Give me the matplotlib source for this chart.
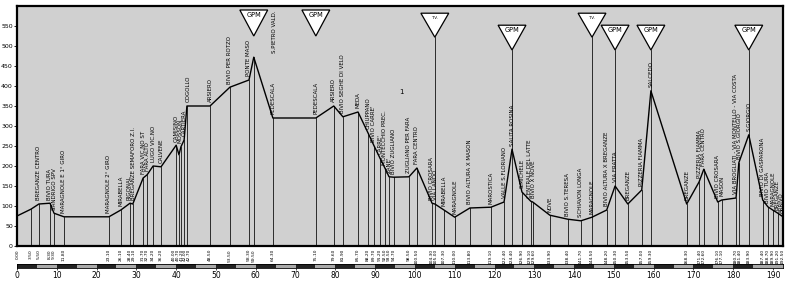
import matplotlib
matplotlib.use("Agg")
import matplotlib.pyplot as plt
from matplotlib.patches import Polygon, Rectangle
from matplotlib.transforms import blended_transform_factory

plt.rcParams['font.family'] = ['Liberation Sans Narrow', 'DejaVu Sans']

# ---------------- data ----------------
km = [0.00, 3.50, 5.50, 8.30, 9.30, 11.80, 23.10, 26.10, 28.40, 29.10, 31.70, 32.70,
      34.20, 36.20, 40.00, 40.70, 41.20, 42.00, 42.70, 48.50, 53.50, 58.30, 59.50,
      64.30, 75.10, 79.60, 81.90, 85.70, 88.20, 89.70, 91.20, 92.50, 93.50, 94.70,
      98.50, 100.50, 104.30, 105.00, 107.30, 110.00, 113.80, 119.10, 122.40, 124.40,
      126.90, 129.10, 129.60, 133.90, 138.40, 141.70, 144.50, 148.20, 150.30, 153.50,
      157.00, 159.30, 168.30, 171.40, 172.60, 176.10, 177.10, 180.70, 181.40, 183.90,
      187.40, 188.70, 189.90, 191.20, 192.50]

elev = [75, 92, 105, 107, 82, 73, 73, 90, 107, 105, 170, 178,
        200, 198, 252, 228, 248, 265, 350, 350, 397, 415, 472,
        320, 320, 350, 323, 335, 283, 251, 220, 194, 173, 172,
        173, 195, 107, 105, 90, 72, 95, 97, 110, 242,
        135, 112, 110, 77, 67, 63, 72, 90, 150, 105,
        140, 388, 105, 160, 192, 110, 115, 120, 208, 278,
        115, 98, 90, 82, 73]

names = ["", "", "BREGANZE CENTRO", "BIVIO TURA", "SANDRIGO SPV", "MARAGNOLE E 1° GIRO",
         "MARAGNOLE 2° GIRO", "MIRABELLA", "RIGONAL", "BREGANZE SEMAFORO Z.I.",
         "FARA VIC.NO ST", "FARA ALTO", "LUGO VIC.NO", "CALVENE", "CAMISINO", "",
         "MOSSON", "CARTIERA", "COGOLLO", "ARSIERO", "BIVIO PER ROTZO", "PONTE MASO", "",
         "PEDESCALA", "PEDESCALA", "ARSIERO", "BIVIO SEGHE DI VELO", "MEDA", "CHIUPPANO",
         "BIVIO CARRE'", "CARRE'", "MONTECCHIO PREC.", "ZANE'", "BIVIO ZUGLIANO",
         "ZUGLIANO PER FARA", "FARA CENTRO", "BIVIO CROSARA", "VIA LANDO", "MIRABELLA",
         "MARAGNOLE", "BIVIO ALTURA X MASON", "MAROSTICA", "VALLE S.FLORIANO",
         "SALITA ROSINA", "S.MICHELE", "CENTRALE DEL LATTE", "BIVIO X NOVE", "NOVE",
         "BIVIO S.TERESA", "SCHIAVON LONGA", "MARAGNOLE", "BIVIO ALTURA X BREGANZE",
         "VIA FRATTA", "BREGANZE", "PIZZERIA FIAMMA", "SALCEDO", "BREGANZE",
         "PIZZERIA FIAMMA", "FARA CENTRO", "BIVIO CROSARA", "MASON",
         "VIA BROGLIATI - VIA MONTELLO - VIA COSTA", "BIVIO S.GIORGIO", "S.GIORGIO",
         "BIVIO DI GASPARONA", "BIVIO TURA", "MARAGNOLE", "BREGANZE", "ARRIVO"]

# GPM / sprint markers: km, text, style, connected to profile by a line
gpm_km = [59.50, 75.10, 105.00, 124.40, 144.50, 150.30, 159.30, 183.90]
gpm_text = ["GPM", "GPM", "T.V.", "GPM", "T.V.", "GPM", "GPM", "GPM"]
gpm_style = ["high", "high", "tv", "low", "tv", "low", "low", "low"]
gpm_link = [False, False, True, True, True, True, True, True]

y_ticks = list(range(0, 551, 50))
scale_ticks = list(range(0, 191, 5))


def spread(xs, sep, lo, hi):
    """Nudge label anchor positions apart so neighbours keep a minimum gap."""
    pos = list(xs)
    for _ in range(200):
        moved = False
        for i in range(len(pos) - 1):
            d = pos[i + 1] - pos[i]
            if d < sep - 1e-6:
                push = (sep - d) / 2
                pos[i] -= push
                pos[i + 1] += push
                moved = True
        pos = [min(max(p, lo), hi) for p in pos]
        if not moved:
            break
    return pos


# ---------------- figure ----------------
W, H = 800, 284
fig = plt.figure(figsize=(W / 100, H / 100), dpi=100)
fig.patch.set_facecolor('white')

ax = fig.add_axes([17 / W, 1 - 246 / H, 766 / W, 240 / H])
ax.set_facecolor('#d0d0d0')
ax.set_xlim(0, 192.5)
ax.set_ylim(0, 600)
for s in ax.spines.values():
    s.set_linewidth(1.6)
    s.set_color('black')
ax.set_xticks([])
ax.set_yticks(y_ticks)
ax.set_yticklabels([str(v) for v in y_ticks], fontsize=4.5)
ax.tick_params(axis='y', direction='out', length=2, width=0.6, pad=1)

# vertical station lines
for k, e in zip(km, elev):
    ax.plot([k, k], [0, e], color='black', lw=0.55, zorder=2)

# profile
ax.plot(km, elev, color='black', lw=1.0, zorder=3)

# station names (anchors nudged apart where stations are very close)
named = [(k, e, n) for k, e, n in zip(km, elev, names) if n]
name_x = spread([k for k, _, _ in named], 1.05, 0.5, 192.0)
for x, (k, e, n) in zip(name_x, named):
    ax.text(x, e + 9, n, rotation=90, ha='center', va='bottom',
            fontsize=4.0, color='black', zorder=4)

# km labels below axis
tr = blended_transform_factory(ax.transData, ax.transAxes)
km_x = spread(km, 0.95, 0.3, 192.3)
for x, k in zip(km_x, km):
    ax.text(x, -0.012, f"{k:.2f}", rotation=90, ha='center', va='top',
            fontsize=3.2, transform=tr, clip_on=False)

# GPM triangles
styles = {"high": (590, 525), "tv": (582, 522), "low": (552, 490)}
hw = 3.5
for gk, gt, gs, gl in zip(gpm_km, gpm_text, gpm_style, gpm_link):
    top, apex = styles[gs]
    tri = Polygon([[gk - hw, top], [gk + hw, top], [gk, apex]], closed=True,
                  facecolor='white', edgecolor='black', lw=0.9, zorder=5)
    ax.add_patch(tri)
    fs = 4.8 if gt == "GPM" else 3.0
    ax.text(gk, top - 12, gt, ha='center', va='center', fontsize=fs, zorder=6)
    if gl:
        idx = km.index(gk)
        ax.plot([gk, gk], [elev[idx], apex], color='black', lw=0.55, zorder=2)

# extra texts
ax.text(64.6, 482, "S.PIETRO VALD.", rotation=90, ha='center', va='bottom',
        fontsize=4.0, zorder=4)
ax.text(96.5, 385, "1", ha='center', va='center', fontsize=5)

# ---------------- scale bar ----------------
ax2 = fig.add_axes([17 / W, 1 - 268 / H, 766 / W, 4 / H])
ax2.set_xlim(0, 192.5)
ax2.set_ylim(0, 1)
for i, t in enumerate(scale_ticks[:-1]):
    ax2.add_patch(Rectangle((t, 0), 5, 1, facecolor='#222222' if i % 2 == 0 else '#aaaaaa',
                            edgecolor='none'))
ax2.add_patch(Rectangle((190, 0), 2.5, 1, facecolor='#aaaaaa', edgecolor='none'))
for s in ax2.spines.values():
    s.set_linewidth(0.6)
ax2.set_yticks([])
ax2.set_xticks(scale_ticks[::2])
ax2.set_xticklabels([str(v) for v in scale_ticks[::2]], fontsize=5.5)
ax2.tick_params(axis='x', length=1.5, width=0.5, pad=1)

fig.savefig("out.png", dpi=100, facecolor='white')
